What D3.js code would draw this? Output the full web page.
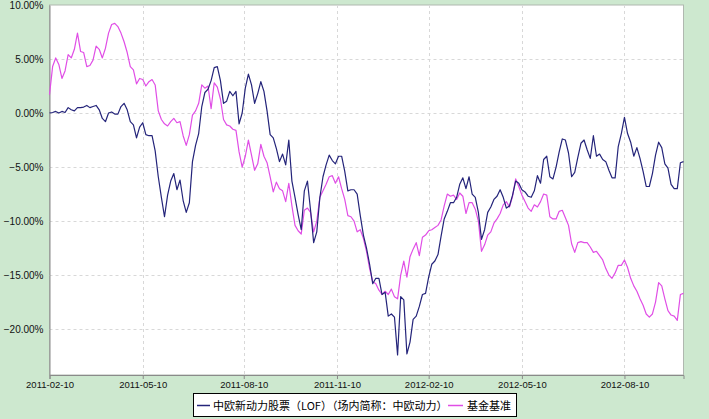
<!DOCTYPE html>
<html><head><meta charset="utf-8">
<script src="https://cdn.jsdelivr.net/npm/d3@7"></script>
<style>html,body{margin:0;padding:0;background:#cde8cf;}svg{display:block}</style>
</head><body><svg id="c" width="709" height="419"></svg>
<script>
// ---- data ----
const tickLabels = ["2011-02-10","2011-05-10","2011-08-10","2011-11-10","2012-02-10","2012-05-10","2012-08-10"];
const tickDays = [0, 60, 125, 185, 244, 304, 370];   // trading-day index of each tick label
const lastDay = 408;
const dayStep = 2;                                   // one value every 2 trading days
const yTicks = [10, 5, 0, -5, -10, -15, -20];
const seriesNames = ["中欧新动力股票（LOF）（场内简称：中欧动力）", "基金基准"];
const seriesColors = ["#24247a", "#e04ee6"];
const fundValues = [
 0.0,0.05,0.15,0.0,0.15,0.05,0.5,0.3,0.2,0.5,
 0.5,0.55,0.7,0.5,0.6,0.7,0.3,-0.5,-0.8,0.0,
 0.1,-0.1,-0.1,0.6,0.9,0.3,-0.8,-1.1,-2.3,-1.3,
 -0.9,-2.0,-2.1,-2.1,-3.5,-5.9,-7.8,-9.6,-7.6,-6.3,
 -5.6,-7.1,-6.2,-8.1,-9.2,-8.3,-4.5,-3.0,-1.9,0.6,
 1.9,2.2,3.0,4.2,4.3,3.0,0.9,1.1,2.0,1.6,
 2.0,-1.0,0.0,2.3,3.6,2.6,0.9,1.8,2.9,2.0,
 0.2,-2.0,-2.3,-3.3,-4.5,-3.8,-4.8,-2.5,-6.3,-7.8,
 -9.4,-10.8,-7.2,-6.3,-9.0,-12.0,-11.0,-7.8,-5.9,-4.8,
 -3.9,-4.4,-4.7,-4.0,-4.0,-5.4,-7.2,-7.1,-7.1,-7.5,
 -9.5,-11.3,-12.5,-14.0,-15.8,-15.3,-15.3,-16.8,-16.6,-18.8,
 -18.6,-18.9,-22.4,-17.0,-17.3,-22.3,-21.2,-19.1,-18.8,-17.9,
 -16.8,-16.7,-15.2,-14.0,-13.7,-13.1,-11.4,-9.8,-9.1,-8.3,
 -8.3,-7.8,-6.6,-6.0,-7.0,-5.9,-7.5,-7.8,-9.2,-11.7,
 -10.8,-9.2,-8.7,-8.0,-7.7,-7.1,-7.8,-8.8,-8.6,-7.6,
 -6.3,-6.5,-7.1,-7.3,-7.7,-7.8,-7.2,-5.8,-6.5,-4.3,
 -4.0,-5.9,-6.1,-5.0,-3.6,-2.4,-2.5,-3.7,-5.9,-5.5,
 -4.1,-2.8,-2.5,-3.4,-4.2,-2.1,-4.0,-3.8,-4.3,-4.5,
 -5.3,-6.0,-6.0,-3.1,-1.9,-0.4,-1.9,-2.7,-4.0,-3.2,
 -4.2,-5.4,-6.8,-6.8,-5.6,-3.9,-2.7,-3.2,-4.7,-5.1,
 -6.6,-7.0,-7.0,-4.6,-4.5
];
const benchValues = [
 1.7,4.3,5.1,4.5,3.2,3.9,5.4,5.1,5.9,7.4,
 5.7,5.6,4.3,4.4,4.9,6.2,5.9,5.1,6.0,7.4,
 8.2,8.3,8.0,7.4,6.6,5.6,4.3,4.0,2.7,3.2,
 3.1,2.5,2.9,3.1,2.6,0.2,-0.6,-1.0,-1.2,-0.8,
 -0.5,-0.9,-0.8,-2.1,-3.0,-2.0,-0.2,0.2,0.9,2.6,
 2.3,2.5,0.4,2.8,2.4,1.3,-0.6,-1.1,-1.2,-1.5,
 -1.6,-3.6,-5.0,-4.0,-2.5,-3.9,-5.3,-4.7,-2.9,-4.0,
 -4.6,-5.9,-7.3,-6.4,-7.0,-7.2,-8.2,-6.5,-8.6,-10.4,
 -10.9,-11.2,-9.0,-8.8,-9.2,-11.0,-10.0,-7.8,-7.2,-6.6,
 -5.9,-5.8,-6.5,-5.9,-7.0,-8.0,-9.5,-9.6,-10.0,-11.0,
 -10.8,-11.6,-12.8,-14.4,-15.6,-15.8,-16.4,-16.8,-16.5,-16.8,
 -16.3,-17.0,-17.2,-15.0,-13.7,-15.2,-13.3,-12.6,-12.0,-13.2,
 -11.5,-11.3,-10.9,-10.8,-10.6,-10.4,-9.9,-8.6,-7.5,-7.7,
 -7.6,-8.0,-7.4,-7.7,-9.3,-8.3,-8.3,-8.9,-10.0,-12.8,
 -12.2,-11.3,-11.0,-10.2,-9.8,-9.3,-8.5,-8.2,-8.7,-7.7,
 -6.1,-6.8,-7.6,-8.2,-8.8,-9.1,-8.5,-8.7,-8.2,-7.5,
 -7.6,-9.6,-9.8,-9.8,-9.1,-9.0,-9.7,-10.4,-12.1,-12.9,
 -12.0,-11.9,-12.0,-12.0,-12.4,-12.9,-12.8,-13.2,-13.6,-14.4,
 -15.0,-15.3,-14.8,-14.1,-14.1,-13.6,-14.3,-15.3,-16.0,-16.5,
 -17.2,-17.8,-18.6,-18.9,-18.6,-17.5,-15.7,-16.0,-17.2,-18.3,
 -18.7,-18.8,-19.2,-16.8,-16.7
];

// ---- layout ----
const L = 49.5, R = 683.5, T = 5, B = 375;
const svg = d3.select("#c");
const x = d3.scaleLinear().domain([0, lastDay]).range([L, R]);
const y = d3.scaleLinear().domain([-24.25, 10]).range([B, T]);

svg.append("rect").attr("x", L).attr("y", T).attr("width", R - L).attr("height", B - T)
  .attr("fill", "#ffffff").attr("stroke", "#b0b8b0").attr("stroke-width", 1);

// grid
const g = svg.append("g");
g.selectAll("line.h").data(yTicks.filter(v => v < 10)).join("line")
  .attr("x1", L).attr("x2", R).attr("y1", d => Math.round(y(d)) + 0.5).attr("y2", d => Math.round(y(d)) + 0.5)
  .attr("stroke", "#d8d8d8").attr("stroke-dasharray", "3,3");
g.selectAll("line.v").data(tickDays.slice(1)).join("line")
  .attr("x1", d => Math.round(x(d)) + 0.5).attr("x2", d => Math.round(x(d)) + 0.5).attr("y1", T).attr("y2", B)
  .attr("stroke", "#d8d8d8").attr("stroke-dasharray", "3,3");

// axes
const yAxis = d3.axisLeft(y).tickValues(yTicks).tickSize(0).tickPadding(6)
  .tickFormat(d => d3.format(".2f")(d) + "%");
const ya = svg.append("g").attr("transform", `translate(${L},0)`).call(yAxis);
ya.select(".domain").attr("stroke", "#8a8a8a");
ya.selectAll("text").attr("font-family", "Liberation Sans, Arial, sans-serif").attr("font-size", 10).attr("fill", "#111");

const xAxis = d3.axisBottom(x).tickValues(tickDays).tickSize(4).tickPadding(2)
  .tickFormat((d, i) => tickLabels[i]);
const xa = svg.append("g").attr("transform", `translate(0,${B})`).call(xAxis);
xa.select(".domain").attr("stroke", "#8a8a8a");
xa.selectAll(".tick line").attr("stroke", "#8a8a8a");
xa.selectAll("text").attr("font-family", "Liberation Sans, Arial, sans-serif").attr("font-size", 9.5).attr("fill", "#111");

// lines
const line = d3.line().x((d, i) => x(i * dayStep)).y(d => y(d));
[benchValues, fundValues].forEach((vals, j) => {
  const c = j === 0 ? seriesColors[1] : seriesColors[0];
  svg.append("path").datum(vals).attr("d", line).attr("fill", "none")
    .attr("stroke", c).attr("stroke-width", 1.2).attr("stroke-linejoin", "round");
});

// legend
const lg = svg.append("g");
lg.append("rect").attr("x", 193.5).attr("y", 393.5).attr("width", 323).attr("height", 23)
  .attr("fill", "#ffffff").attr("stroke", "#000").attr("stroke-width", 1);
const lf = "'Noto Sans CJK SC', sans-serif";
lg.append("line").attr("x1", 197).attr("x2", 210).attr("y1", 405.5).attr("y2", 405.5).attr("stroke", seriesColors[0]).attr("stroke-width", 1.5);
lg.append("text").attr("x", 213).attr("y", 409.5).attr("font-family", lf).attr("font-size", 11).attr("fill", "#000").text(seriesNames[0]);
lg.append("line").attr("x1", 448).attr("x2", 463).attr("y1", 405.5).attr("y2", 405.5).attr("stroke", seriesColors[1]).attr("stroke-width", 1.5);
lg.append("text").attr("x", 467).attr("y", 409.5).attr("font-family", lf).attr("font-size", 11).attr("fill", "#000").text(seriesNames[1]);
</script>
</body></html>
